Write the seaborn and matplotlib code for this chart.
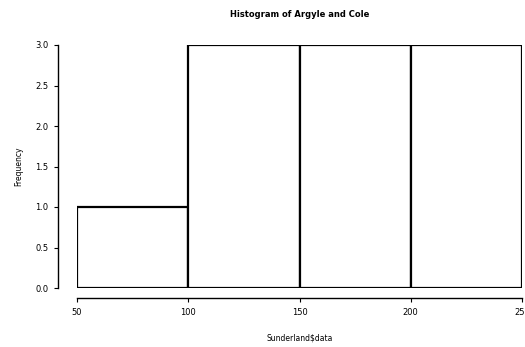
import matplotlib
matplotlib.use("Agg")
import matplotlib.pyplot as plt
import seaborn as sns
import numpy as np

# histogram data (bin edges and counts)
bin_edges = [50, 100, 150, 200, 250]
bin_counts = [1, 3, 3, 3]
y_ticks = [0.0, 0.5, 1.0, 1.5, 2.0, 2.5, 3.0]
x_ticks = [50, 100, 150, 200, 250]

sns.set_theme(style="white", context="paper")
plt.rcParams["font.family"] = ["DejaVu Sans"]

W, H = 525, 347
fig = plt.figure(figsize=(W / 100, H / 100), dpi=100)
ax = fig.add_axes([77 / W, (H - 288) / H, (522 - 77) / W, (288 - 45) / H])

mids = [(a + b) / 2 for a, b in zip(bin_edges[:-1], bin_edges[1:])]
sns.histplot(x=mids, weights=bin_counts, bins=bin_edges, ax=ax,
             color="white", edgecolor="black", linewidth=1.6, alpha=1.0)

ax.set_xlim(50, 250)
ax.set_ylim(0, 3)
ax.set_xticks(x_ticks)
ax.set_xticklabels([str(v) for v in x_ticks])
ax.set_yticks(y_ticks)
ax.set_yticklabels([f"{v:.1f}" for v in y_ticks], rotation=90, va="center")

for side in ("top", "right"):
    ax.spines[side].set_visible(False)
ax.spines["left"].set_position(("outward", 13.5))
ax.spines["bottom"].set_position(("outward", 7.5))
ax.spines["left"].set_bounds(0, 3)
ax.spines["bottom"].set_bounds(50, 250)
for side in ("left", "bottom"):
    ax.spines[side].set_color("black")
    ax.spines[side].set_linewidth(1.0)
ax.tick_params(axis="both", length=3, width=0.8, color="black",
               direction="out", pad=4, bottom=True, left=True,
               labelsize=6, labelcolor="black")

ax.set_xlabel("Sunderland$data", fontsize=5.5, labelpad=12, color="black")
ax.set_ylabel("Frequency", fontsize=5.5, labelpad=9, color="black")
ax.set_title("Histogram of Argyle and Cole", fontsize=6, fontweight="bold",
             pad=20, color="black")

fig.savefig("out.png", dpi=100)
